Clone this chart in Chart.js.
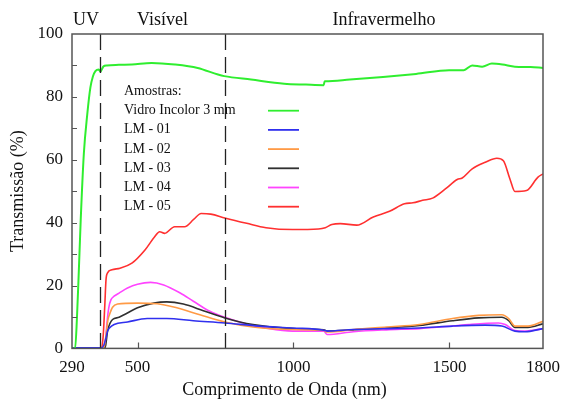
<!DOCTYPE html>
<html>
<head>
<meta charset="utf-8">
<script src="https://cdn.jsdelivr.net/npm/chart.js@4"></script>
<style>
  body { margin: 0; background: #fff; }
</style>
</head>
<body>
<canvas id="chart" width="569" height="401"></canvas>
<script>
// Spectral regions (nm)
const regionEdges = [290, 380, 780, 1800];
const regionLabels = ['UV', 'Visível', 'Infravermelho'];
const xTicks = [290, 500, 1000, 1500, 1800];

// Vidro Incolor 3 mm
const vidroNm = [290, 300, 306, 312, 318, 328, 339, 349, 357, 365, 376, 381, 391, 402, 440, 482, 545, 620, 693, 758, 778, 864, 970, 1040, 1097, 1100, 1102, 1181, 1287, 1393, 1499, 1546, 1573, 1605, 1636, 1670, 1710, 1760, 1800];
const vidroT = [0, 0, 10, 25, 41, 62, 74.5, 83, 86.5, 88.2, 88.7, 88, 89.7, 90, 90.2, 90.3, 90.8, 90.3, 89.2, 87.1, 86.6, 85.5, 84.2, 83.9, 83.7, 85, 85, 85.5, 86.3, 87.3, 88.5, 88.5, 90, 89.6, 90.6, 90.3, 89.6, 89.5, 89.2];

// LM - 01
const lm01Nm = [290, 385, 392, 398, 404, 410, 425, 468, 531, 594, 679, 780, 891, 997, 1097, 1108, 1192, 1298, 1404, 1510, 1615, 1668, 1710, 1742, 1800];
const lm01T = [0.2, 0.2, 1, 3, 5.5, 6.5, 7.6, 8.4, 9.5, 9.5, 8.8, 8.1, 7.1, 6.5, 5.8, 5.5, 6.0, 6.3, 6.5, 7.1, 7.4, 7.1, 5.5, 5.3, 6.3];

// LM - 02
const lm02Nm = [290, 390, 394, 400, 405, 410, 420, 436, 500, 563, 626, 700, 780, 870, 997, 1097, 1108, 1192, 1298, 1404, 1510, 1594, 1668, 1690, 1710, 1752, 1800];
const lm02T = [0.2, 0.2, 0.8, 5, 9, 10.7, 13.1, 14.1, 14.4, 14.2, 12.9, 10.7, 8.4, 6.8, 6.0, 5.7, 5.2, 6.0, 6.8, 7.6, 9.5, 10.5, 10.7, 9.5, 7.1, 7.1, 8.6];

// LM - 03
const lm03Nm = [290, 395, 398, 404, 412, 420, 441, 457, 500, 552, 594, 647, 711, 780, 870, 997, 1097, 1108, 1192, 1298, 1404, 1510, 1594, 1668, 1690, 1710, 1752, 1800];
const lm03T = [0.2, 0.2, 1, 5.5, 8, 9.2, 9.9, 10.7, 12.9, 14.4, 14.8, 14.1, 12, 9.7, 7.6, 6.3, 5.9, 5.5, 5.9, 6.5, 7.3, 8.8, 9.7, 9.9, 8.8, 6.7, 6.7, 7.8];

// LM - 04
const lm04Nm = [290, 393, 397, 402, 408, 415, 425, 441, 468, 500, 542, 584, 637, 679, 732, 780, 838, 912, 997, 1097, 1108, 1192, 1298, 1404, 1510, 1562, 1657, 1679, 1710, 1742, 1800];
const lm04T = [0.2, 0.2, 2, 8, 13, 15.5, 16.6, 17.6, 19.2, 20.4, 21, 20.2, 17.6, 15, 11.8, 9.9, 8.1, 6.5, 5.5, 5.5, 4.4, 5.3, 5.9, 6.3, 7.1, 7.6, 8.1, 7.6, 5.7, 5.5, 6.3];

// LM - 05
const lm05Nm = [290, 385, 390, 395, 399, 404, 418, 444, 482, 524, 555, 571, 587, 619, 651, 680, 704, 735, 780, 850, 912, 997, 1080, 1102, 1123, 1150, 1203, 1256, 1308, 1356, 1383, 1414, 1446, 1488, 1525, 1541, 1573, 1615, 1652, 1673, 1694, 1710, 1747, 1784, 1800];
const lm05T = [0.2, 0.2, 4, 13.4, 21.8, 24, 25, 25.5, 27.1, 31.3, 35.5, 37.1, 36.6, 38.7, 38.7, 41, 42.9, 42.7, 41.5, 39.8, 38.4, 37.8, 38, 38.4, 39.4, 39.7, 39.2, 41.8, 43.6, 46, 46.3, 47.1, 47.8, 50.8, 53.7, 54.2, 57.1, 59.2, 60.5, 59.7, 53.9, 49.9, 50.2, 54.5, 55.5];

const seriesLabels = ['Vidro Incolor 3 mm', 'LM - 01', 'LM - 02', 'LM - 03', 'LM - 04', 'LM - 05'];
const seriesNm = [vidroNm, lm01Nm, lm02Nm, lm03Nm, lm04Nm, lm05Nm];
const seriesT = [vidroT, lm01T, lm02T, lm03T, lm04T, lm05T];
const seriesColors = ['#2fee2f', '#3030ee', '#ff9a45', '#303030', '#ff44ff', '#ff3030'];

const serif = 'Liberation Serif, Times New Roman, serif';
const ink = '#111';
const frame = '#555';

const datasets = seriesLabels.map((label, i) => ({
  label: label,
  data: seriesNm[i].map((x, j) => ({ x: x, y: seriesT[i][j] })),
  borderColor: seriesColors[i],
  borderWidth: i === 0 ? 2 : 1.6,
  pointRadius: 0,
  fill: false,
  cubicInterpolationMode: 'monotone'
}));

// box, inward ticks, region markers and the legend
const decorations = {
  id: 'decorations',
  afterDatasetsDraw(chart) {
    const { ctx, chartArea: a, scales: { x, y } } = chart;
    ctx.save();

    // dashed region boundaries
    ctx.strokeStyle = '#222';
    ctx.lineWidth = 1.3;
    ctx.setLineDash([16, 7]);
    regionEdges.slice(1, -1).forEach(nm => {
      const px = Math.round(x.getPixelForValue(nm)) + 0.5;
      ctx.beginPath();
      ctx.moveTo(px, a.top);
      ctx.lineTo(px, a.bottom);
      ctx.stroke();
    });
    ctx.setLineDash([]);

    // frame
    ctx.strokeStyle = frame;
    ctx.lineWidth = 1.5;
    ctx.strokeRect(a.left, a.top, a.right - a.left, a.bottom - a.top);

    // inward ticks
    ctx.lineWidth = 1.2;
    ctx.beginPath();
    for (let v = 10; v < 100; v += 10) {
      const py = Math.round(y.getPixelForValue(v)) + 0.5;
      ctx.moveTo(a.left, py);
      ctx.lineTo(a.left + 5, py);
    }
    xTicks.slice(1, -1).forEach(nm => {
      const px = Math.round(x.getPixelForValue(nm)) + 0.5;
      ctx.moveTo(px, a.bottom);
      ctx.lineTo(px, a.bottom - 6);
    });
    ctx.stroke();

    // region names above the plot
    ctx.fillStyle = ink;
    ctx.font = '18px ' + serif;
    ctx.textAlign = 'center';
    ctx.textBaseline = 'alphabetic';
    regionLabels.forEach((t, i) => {
      const mid = (regionEdges[i] + regionEdges[i + 1]) / 2;
      ctx.fillText(t, x.getPixelForValue(mid), 25);
    });

    // legend
    ctx.font = '14px ' + serif;
    ctx.textAlign = 'left';
    const lx = 124, base = 95, step = 19.2;
    ctx.fillText('Amostras:', lx, base);
    chart.data.datasets.forEach((ds, i) => {
      const by = base + step * (i + 1);
      ctx.fillStyle = ink;
      ctx.fillText(ds.label, lx, by);
      ctx.strokeStyle = ds.borderColor;
      ctx.lineWidth = 1.8;
      ctx.beginPath();
      ctx.moveTo(268, by - 3.5);
      ctx.lineTo(299, by - 3.5);
      ctx.stroke();
    });

    ctx.restore();
  }
};

new Chart(document.getElementById('chart'), {
  type: 'line',
  data: { datasets: datasets },
  options: {
    responsive: false,
    animation: false,
    devicePixelRatio: 1,
    layout: { padding: { left: 0, right: 0, top: 34, bottom: 0 } },
    plugins: {
      legend: { display: false },
      tooltip: { enabled: false },
      title: {
        display: true,
        position: 'bottom',
        text: 'Comprimento de Onda (nm)',
        color: ink,
        font: { family: serif, size: 18, weight: 'normal' },
        padding: { top: 0, bottom: 0 }
      }
    },
    scales: {
      x: {
        type: 'linear',
        min: 290,
        max: 1800,
        afterBuildTicks: s => { s.ticks = xTicks.map(v => ({ value: v })); },
        afterFit: s => { s.height = 31; },
        grid: { display: false, drawTicks: false },
        border: { display: false },
        ticks: {
          color: ink,
          font: { family: serif, size: 17 },
          padding: 9,
          maxRotation: 0,
          autoSkip: false,
          callback: v => String(v)
        }
      },
      y: {
        min: 0,
        max: 100,
        afterFit: s => { s.width = 72; },
        grid: { display: false, drawTicks: false },
        border: { display: false },
        ticks: { stepSize: 20, color: ink, font: { family: serif, size: 17 }, padding: 9 },
        title: {
          display: true,
          text: 'Transmissão (%)',
          color: ink,
          font: { family: serif, size: 18 },
          padding: { top: 7, bottom: 0 }
        }
      },
      yRight: {
        position: 'right',
        display: true,
        afterFit: s => { s.width = 21; },
        grid: { display: false, drawTicks: false },
        border: { display: false },
        ticks: { display: false }
      }
    }
  },
  plugins: [decorations]
});
</script>
</body>
</html>
